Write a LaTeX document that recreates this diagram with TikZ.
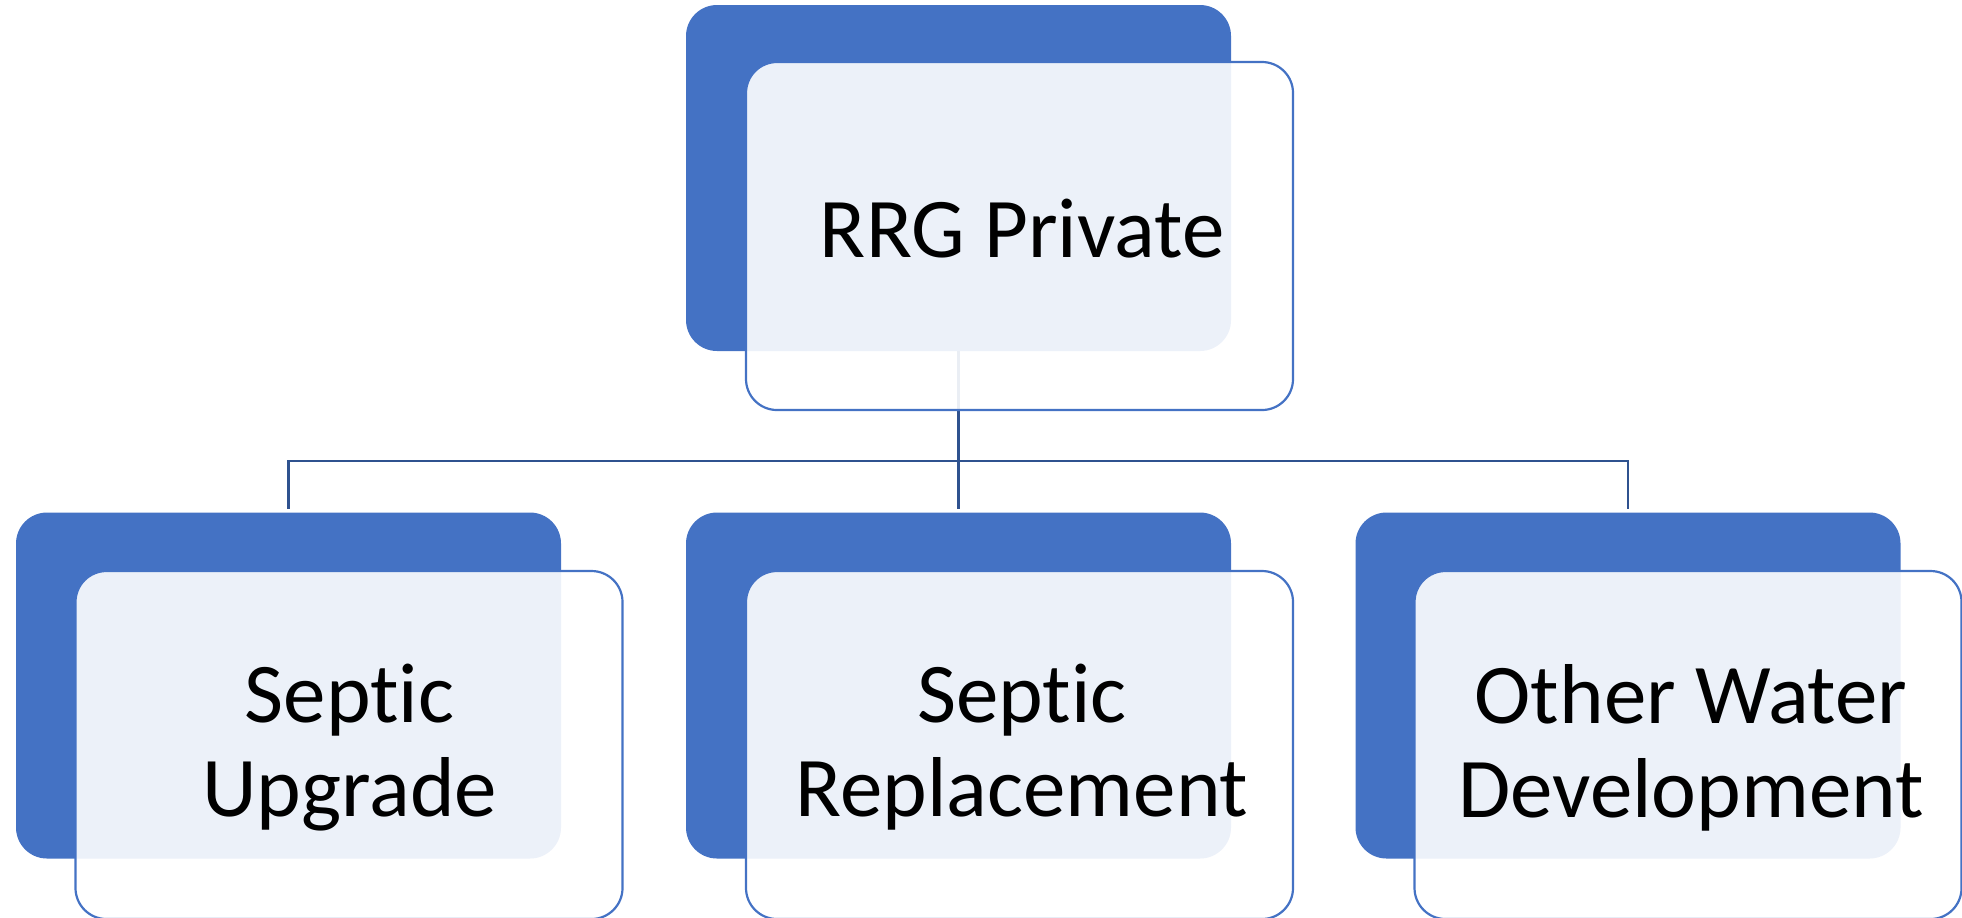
\documentclass[tikz,border=0pt]{standalone}
\usepackage{fontspec}
\setmainfont{Carlito}[Ligatures={NoCommon}]
\definecolor{accent}{HTML}{4472C4}
\definecolor{connc}{HTML}{2F528F}
\begin{document}
\begin{tikzpicture}[x=0.5pt,y=-0.5pt,
  backbox/.style={rectangle, fill=accent, draw=none, rounded corners=15.5pt,
    minimum width=272.5pt, minimum height=173pt, inner sep=0pt},
  frontbox/.style={rectangle, fill=white, fill opacity=0.9, draw=accent, draw opacity=1,
    line width=1.1pt, rounded corners=15.5pt,
    minimum width=273.5pt, minimum height=174pt, inner sep=0pt},
  conn/.style={draw=connc, line width=1.1pt},
  lbl/.style={align=center, inner sep=0pt, text=black,
    font=\fontsize{42.5pt}{47pt}\selectfont}]
\useasboundingbox (0,0) rectangle (1962,917);
% back boxes
\node[backbox] (b0) at (958.5,178) {};
\node[backbox] (b1) at (288.5,685.5) {};
\node[backbox] (b2) at (958.5,685.5) {};
\node[backbox] (b3) at (1628,685.5) {};
% connectors
\coordinate (j) at (958.5,461);
\draw[conn] (b0.south) -- (j);
\draw[conn, shorten >=1.5pt] (j) -| (b1.north);
\draw[conn, shorten >=1.5pt] (j) -- (b2.north);
\draw[conn, shorten >=1.5pt] (j) -| (b3.north);
% front boxes
\node[frontbox] (f0) at (1019.5,236) {};
\node[frontbox] (f1) at (349,745) {};
\node[frontbox] (f2) at (1019.5,745) {};
\node[frontbox] (f3) at (1688,745) {};
% labels
\node[lbl] (t0) at (1022,229) {RRG Private};
\node[lbl] (t1) at (349.5,747.5) {Septic\\Upgrade};
\node[lbl] (t2) at (1022,747.5) {Septic\\Replacement};
\node[lbl] (t3) at (1691,747.5) {Other Water\\Development};
\end{tikzpicture}
\end{document}
